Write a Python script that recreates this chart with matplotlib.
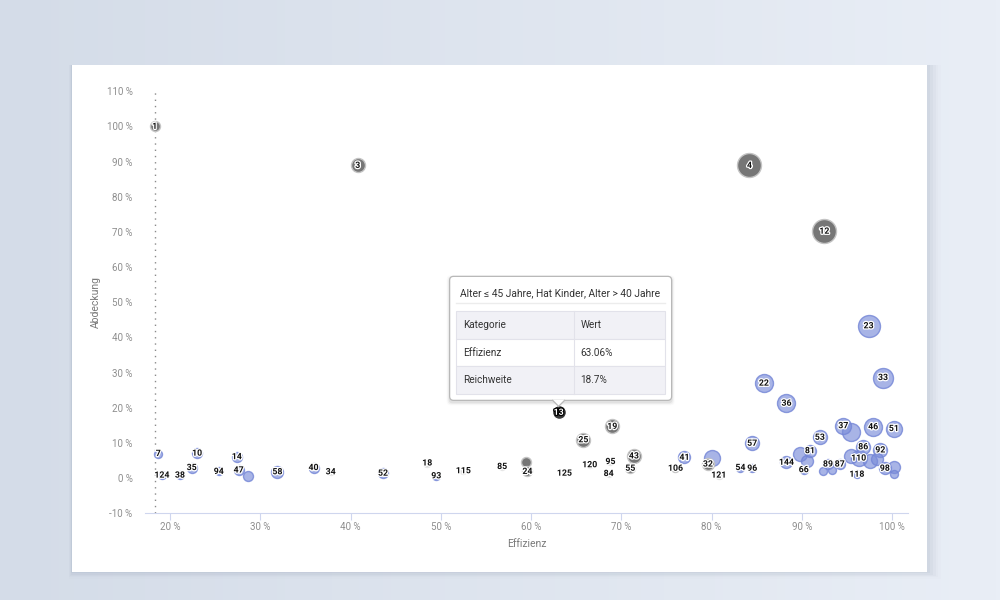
import numpy as np
import matplotlib.pyplot as plt
import matplotlib.patheffects as pe
from matplotlib.patches import Rectangle, FancyBboxPatch, Polygon
from matplotlib.ticker import FuncFormatter, MultipleLocator

plt.rcParams['font.family'] = ['Roboto', 'DejaVu Sans']

# --- data -------------------------------------------------------------
labels = ["1", "3", "4", "12", "23", "33", "22", "36", "19", "25", "43", "55",
          "37", "", "46", "51", "53", "57", "86", "92", "", "", "81", "110",
          "", "", "", "41", "", "32", "144", "89", "87", "", "", "66", "118",
          "98", "", "", "54", "96", "106", "121", "120", "95", "84", "125",
          "", "24", "85", "115", "18", "93", "52", "34", "40", "58", "", "47",
          "14", "94", "10", "35", "38", "124", "7", "13"]
effizienz = [18.3, 40.8, 84.2, 92.5, 97.4, 99.0, 85.8, 88.3, 69.0, 65.8, 71.4, 71.0,
             94.6, 95.4, 97.9, 100.2, 92.0, 84.5, 96.8, 98.7, 89.8, 90.6, 90.9, 96.3,
             95.4, 97.6, 98.3, 77.0, 80.1, 79.6, 88.3, 92.9, 94.2, 92.3, 93.4, 90.2, 96.1,
             99.2, 100.2, 100.2, 83.2, 84.5, 76.0, 80.8, 66.5, 68.8, 68.6, 63.7,
             59.4, 59.6, 56.8, 52.5, 48.5, 49.5, 43.6, 37.8, 35.9, 31.9, 28.6, 27.6,
             27.4, 25.4, 23.0, 22.4, 21.1, 19.1, 18.7, 63.06]
abdeckung = [100.0, 88.9, 88.9, 70.2, 43.3, 28.6, 27.0, 21.3, 14.7, 10.9, 6.3, 2.8,
             14.9, 13.0, 14.6, 14.1, 11.6, 9.9, 8.9, 8.0, 6.8, 4.9, 7.8, 5.7,
             6.3, 4.9, 5.4, 5.9, 5.6, 4.0, 4.5, 4.0, 4.0, 2.1, 2.4, 2.4, 1.1,
             2.8, 3.1, 1.3, 3.0, 2.8, 2.8, 0.85, 3.8, 4.7, 1.3, 1.4,
             4.7, 1.9, 3.3, 2.1, 4.3, 0.65, 1.4, 1.8, 3.0, 1.8, 0.7, 2.3,
             6.1, 1.9, 7.1, 3.0, 0.85, 0.85, 7.0, 18.7]
groesse = [25, 49, 144, 144, 121, 100, 81, 81, 49, 49, 49, 25,
           64, 81, 81, 64, 49, 49, 49, 49, 49, 36, 36, 64,
           49, 49, 36, 36, 64, 36, 36, 25, 25, 16, 16, 16, 16,
           36, 36, 16, 16, 16, 16, 16, 9, 9, 9, 9,
           25, 25, 9, 9, 16, 16, 25, 9, 25, 36, 25, 25,
           25, 16, 25, 25, 16, 16, 16, 49]
gruppe = ["g", "g", "g", "g", "b", "b", "b", "b", "g", "g", "g", "g",
          "b", "b", "b", "b", "b", "b", "b", "b", "b", "b", "b", "b",
          "b", "b", "b", "b", "b", "g", "b", "b", "b", "b", "b", "b", "b",
          "b", "b", "b", "b", "b", "g", "l", "l", "l", "l", "l",
          "g", "g", "l", "l", "l", "b", "b", "l", "b", "b", "b", "b",
          "b", "b", "b", "b", "b", "b", "b", "h"]

tip_titel = "Alter \u2264 45 Jahre, Hat Kinder, Alter > 40 Jahre"
tip_kopf = ["Kategorie", "Wert"]
tip_zeilen = [["Effizienz", "63.06%"], ["Reichweite", "18.7%"]]

# --- figure / background ------------------------------------------------
fig = plt.figure(figsize=(10, 6), dpi=100)
bg = fig.add_axes([0, 0, 1, 1])
grad = np.linspace(0, 1, 256)[None, :]
bg.imshow(grad, extent=[0, 1, 0, 1], aspect='auto', origin='lower',
          cmap=plt.matplotlib.colors.LinearSegmentedColormap.from_list(
              'bg', ['#d4dce8', '#e9eef6']))
bg.set_xlim(0, 1)
bg.set_ylim(0, 1)
bg.axis('off')

# card shadow + card
for i, a in enumerate([0.05, 0.04, 0.03, 0.02, 0.01]):
    d = (i + 1) * 0.0022
    bg.add_patch(Rectangle((0.072 - d * 0.3, 0.0467 - d), 0.855 + d * 1.6, 0.845 + d,
                           facecolor='#5a6a85', alpha=a, edgecolor='none'))
bg.add_patch(Rectangle((0.072, 0.0467), 0.855, 0.845, facecolor='white', edgecolor='none'))

# --- chart ---------------------------------------------------------------
ax = fig.add_axes([0.145, 0.1445, 0.763, 0.7035])
ax.patch.set_alpha(0)
ax.set_xlim(17.23, 101.77)
ax.set_ylim(-10, 110)

farben = {
    'b': dict(fc=(0.48, 0.55, 0.85, 0.65), ec=(0.45, 0.52, 0.84, 0.8)),
    'g': dict(fc='#767676', ec='#c4c4c4'),
    'l': dict(fc='#d2d2d2', ec='#e6e6e6'),
    'h': dict(fc='#3a3a3a', ec='white'),
}

ax.axvline(effizienz[0], color='#8a8a8a', lw=1.0, ls=(0, (1, 3.5)), zorder=1)

order = np.argsort(groesse)[::-1]
for i in order:
    f = farben[gruppe[i]]
    ax.scatter(effizienz[i], abdeckung[i], s=2.07 * groesse[i],
               facecolor=f['fc'], edgecolor=f['ec'], linewidth=1.0, zorder=3)

for i, lab in enumerate(labels):
    if not lab:
        continue
    col = 'white' if gruppe[i] == 'h' else '#111111'
    halo = 'black' if gruppe[i] == 'h' else 'white'
    ax.text(effizienz[i], abdeckung[i], lab, ha='center', va='center',
            fontsize=6.3, fontweight='bold', color=col, zorder=5,
            path_effects=[pe.withStroke(linewidth=1.8, foreground=halo)])

ax.yaxis.set_major_locator(MultipleLocator(10))
ax.yaxis.set_major_formatter(FuncFormatter(lambda v, p: f"{v:.0f} %"))
ax.xaxis.set_major_formatter(FuncFormatter(lambda v, p: f"{v:.0f} %"))
ax.set_xticks(np.arange(20, 101, 10))
for s in ['top', 'right', 'left']:
    ax.spines[s].set_visible(False)
ax.spines['bottom'].set_color('#cfd6ee')
ax.tick_params(axis='y', length=0, pad=9, labelsize=7, labelcolor='#8e8e8e')
ax.tick_params(axis='x', length=5, width=0.8, color='#cfd6ee', pad=1,
               labelsize=7, labelcolor='#8e8e8e')
ax.set_xlabel("Effizienz", fontsize=7.5, color='#7a7a7a', labelpad=5)
ax.set_ylabel("Abdeckung", fontsize=7.5, color='#7a7a7a', labelpad=4)

# --- tooltip (pixel overlay, anchored to highlighted point) ------------
ov = fig.add_axes([0, 0, 1, 1], zorder=10)
ov.set_xlim(0, 1000)
ov.set_ylim(600, 0)
ov.axis('off')
ov.patch.set_alpha(0)

hi = gruppe.index('h')
dx, dy = ax.transData.transform((effizienz[hi], abdeckung[hi]))
px, py = dx, 600 - dy
w, h = 222, 124
x0 = px - w / 2 + 2
y1 = py - 12
y0 = y1 - h

for k, a in enumerate([0.06, 0.04, 0.02]):
    ov.add_patch(FancyBboxPatch((x0 - 1 - k, y0 + 1 - k), w + 2 + 2 * k, h + 2 + 2 * k,
                                boxstyle='round,pad=0,rounding_size=4',
                                facecolor='black', alpha=a, edgecolor='none'))
ov.add_patch(FancyBboxPatch((x0, y0), w, h, boxstyle='round,pad=0,rounding_size=4',
                            facecolor='white', edgecolor='#b8b8b8', lw=0.9))
ov.add_patch(Polygon([[px - 6, y1 - 0.5], [px + 6, y1 - 0.5], [px, y1 + 6]],
                     closed=True, facecolor='white', edgecolor='none', zorder=3))
ov.plot([px - 6, px, px + 6], [y1, y1 + 6, y1], color='#b8b8b8', lw=0.9, zorder=4)

ov.text(x0 + 10, y0 + 17, tip_titel, fontsize=7.4, color='#333333', va='center', ha='left')
tx0, tx1 = x0 + 6, x0 + w - 7
ov.plot([tx0, tx1], [y0 + 27, y0 + 27], color='#ececec', lw=1)
colx = tx0 + 118
rh = 27.5
ty = y0 + 35
rows = [tip_kopf] + tip_zeilen
for r, row in enumerate(rows):
    fc = '#f1f1f6' if r % 2 == 0 else 'white'
    ov.add_patch(Rectangle((tx0, ty + r * rh), tx1 - tx0, rh, facecolor=fc,
                           edgecolor='#e2e2ea', lw=0.8))
    ov.text(tx0 + 7, ty + r * rh + rh / 2, row[0], fontsize=7.2, color='#333333',
            va='center')
    ov.text(colx + 7, ty + r * rh + rh / 2, row[1], fontsize=7.2, color='#333333',
            va='center')
ov.plot([colx, colx], [ty, ty + rh * len(rows)], color='#e2e2ea', lw=0.8)

fig.savefig('out.png', dpi=100)
